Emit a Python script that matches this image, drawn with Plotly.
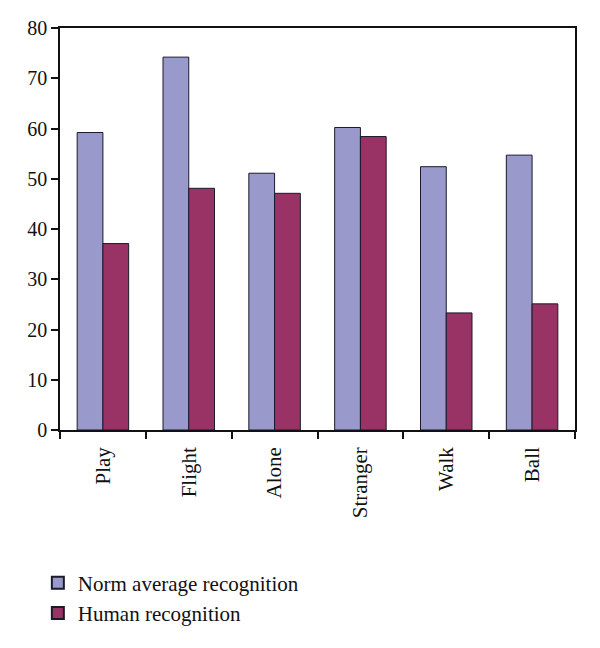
import plotly.graph_objects as go

categories = ["Play", "Flight", "Alone", "Stranger", "Walk", "Ball"]
norm_avg = [59.2, 74.2, 51.1, 60.2, 52.4, 54.7]
human = [37.1, 48.1, 47.1, 58.4, 23.3, 25.1]

fam = "Liberation Serif, Times New Roman, serif"
font = dict(family=fam, size=21, color="#111111")
yfont = dict(family=fam, size=20, color="#111111")

fig = go.Figure()
fig.add_trace(go.Bar(x=categories, y=norm_avg, name="Norm average recognition",
                     marker=dict(color="#9999CC", line=dict(color="#1a1a2a", width=1))))
fig.add_trace(go.Bar(x=categories, y=human, name="Human recognition",
                     marker=dict(color="#993366", line=dict(color="#1a1a2a", width=1))))

fig.update_layout(
    width=600, height=648,
    margin=dict(l=52, r=33, t=20, b=226),
    paper_bgcolor="white", plot_bgcolor="white",
    font=font,
    barmode="group", bargap=0.4, bargroupgap=0,
    showlegend=True,
    legend=dict(x=-0.043, y=-0.33, xanchor="left", yanchor="top",
                orientation="v", font=font, itemsizing="constant",
                tracegroupgap=0, bgcolor="rgba(0,0,0,0)"),
)
fig.update_xaxes(showline=True, linecolor="#111111", linewidth=1.5, mirror=True,
                 ticks="outside", ticklen=7, tickcolor="#111111", tickwidth=1.5,
                 tickson="boundaries", tickangle=-90, showgrid=False,
                 tickfont=font, automargin=False, ticklabelstandoff=7)
fig.update_yaxes(range=[0, 80], dtick=10, showline=True, linecolor="#111111",
                 linewidth=1.5, mirror=True, ticks="outside", ticklen=7,
                 tickcolor="#111111", tickwidth=1.5, showgrid=False, zeroline=False,
                 tickfont=yfont, automargin=False)

fig.write_html("out.html")
